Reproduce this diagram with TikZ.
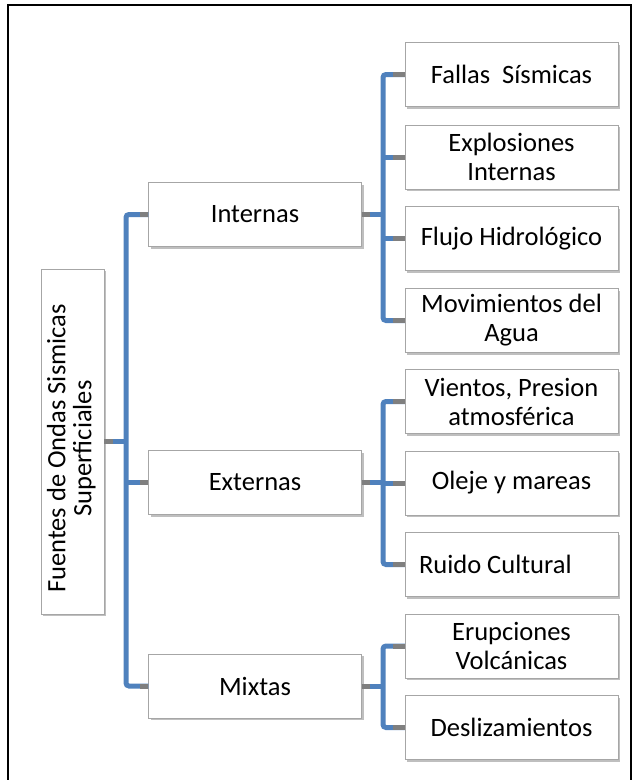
\documentclass[tikz,border=0pt]{standalone}
\usepackage{fontspec}
\setmainfont{Carlito}
\usetikzlibrary{positioning,shadows,calc}

\definecolor{linkblue}{RGB}{79,129,189}
\definecolor{stubgray}{RGB}{127,127,127}

\begin{document}
\begin{tikzpicture}[x=1pt, y=-1pt,
    box/.style={draw=black!35, fill=white, minimum width=213pt, minimum height=64pt, inner sep=2pt, align=center, font=\fontsize{26.5}{29}\selectfont, drop shadow={shadow xshift=2pt, shadow yshift=-2pt, fill=black!50, opacity=.5}},
    link/.style={draw=linkblue, line width=5pt, rounded corners=3pt},
    stub/.style={draw=stubgray, line width=5pt}
]
    \useasboundingbox (0,0) rectangle (637,780);
    % Outer frame
    \draw[line width=1.4pt] (8,5) rectangle (631,800);

    % Root
    \node[box, minimum width=63pt, minimum height=345pt] (fuentes) at (72.5,441.5) {\rotatebox{90}{\begin{tabular}{@{}c@{}}Fuentes de Ondas Sismicas\kern14pt\\[-3pt]Superficiales\kern14pt\end{tabular}}};

    % First level
    \node[box] (internas) at (255,214.5) {Internas};
    \node[box] (externas) at (255,482.5) {Externas};
    \node[box] (mixtas) at (255,686) {Mixtas};

    % Second level
    \node[box] (fallas) at (511.5,74.5) {Fallas\ \ Sísmicas};
    \node[box] (explosiones) at (511.5,157) {Explosiones\\Internas};
    \node[box] (flujo) at (511.5,238.5) {Flujo Hidrológico};
    \node[box] (movimientos) at (511.5,320.5) {Movimientos del\\Agua};
    \node[box] (vientos) at (511.5,401.5) {Vientos, Presion\\atmosférica};
    \node[box] (oleje) at (511.5,483) {Oleje y mareas};
    \node[box, text width=185pt, align=flush left] (ruido) at (511.5,564.5) {Ruido Cultural};
    \node[box] (erupciones) at (511.5,646) {Erupciones\\Volcánicas};
    \node[box] (deslizamientos) at (511.5,727.5) {Deslizamientos};

    % Junctions
    \coordinate (jroot) at (126,441.5);
    \coordinate (jint) at (383,214.5);
    \coordinate (jext) at (383,483);
    \coordinate (jmix) at (383,686);

    % Root connectors
    \draw[link] (internas.west) -| (jroot) |- (mixtas.west);
    \draw[link] (fuentes.east) -- (jroot);
    \draw[link] (jroot |- externas.west) -- (externas.west);

    % Internas connectors
    \draw[link] (fallas.west) -| (jint) |- (movimientos.west);
    \draw[link] (internas.east) -- (jint);
    \draw[link] (jint |- explosiones.west) -- (explosiones.west);
    \draw[link] (jint |- flujo.west) -- (flujo.west);

    % Externas connectors
    \draw[link] (vientos.west) -| (jext) |- (ruido.west);
    \draw[link] (externas.east) -- (jext |- externas.east);
    \draw[link] (jext) -- (oleje.west);

    % Mixtas connectors
    \draw[link] (erupciones.west) -| (jmix) |- (deslizamientos.west);
    \draw[link] (mixtas.east) -- (jmix);

    % Grey stubs at the boxes
    \draw[stub] (fuentes.east) -- ++(9,0);
    \foreach \n in {internas,externas,mixtas} {
        \draw[stub] (\n.west) -- ++(-8,0);
        \draw[stub] (\n.east) -- ++(8,0);
    }
    \foreach \n in {fallas,explosiones,flujo,movimientos,vientos,oleje,ruido,erupciones,deslizamientos}
        \draw[stub] (\n.west) -- ++(-12,0);
\end{tikzpicture}
\end{document}
